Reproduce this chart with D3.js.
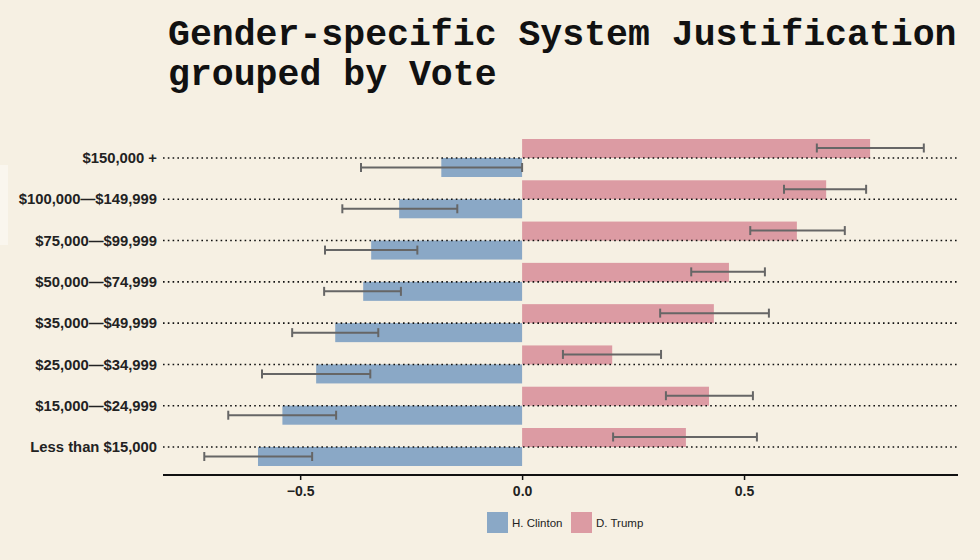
<!DOCTYPE html>
<html>
<head>
<meta charset="utf-8">
<script src="https://cdn.jsdelivr.net/npm/d3@7"></script>
<style>
  body { margin: 0; background: #f6f0e3; }
</style>
</head>
<body>
<div id="content"></div>
<script>
// Data.
var incomes = ['$150,000 +', '$100,000\u2014$149,999', '$75,000\u2014$99,999',
               '$50,000\u2014$74,999', '$35,000\u2014$49,999', '$25,000\u2014$34,999',
               '$15,000\u2014$24,999', 'Less than $15,000'];
var trumpMean = [0.784, 0.685, 0.619, 0.466, 0.432, 0.203, 0.421, 0.369];
var trumpLow  = [0.664, 0.590, 0.514, 0.381, 0.311, 0.092, 0.324, 0.205];
var trumpHigh = [0.905, 0.775, 0.727, 0.547, 0.556, 0.313, 0.520, 0.529];
var clintonMean = [-0.182, -0.277, -0.340, -0.358, -0.421, -0.464, -0.540, -0.595];
var clintonLow  = [-0.363, -0.405, -0.444, -0.446, -0.518, -0.586, -0.662, -0.716];
var clintonHigh = [0.000, -0.146, -0.236, -0.273, -0.324, -0.342, -0.419, -0.473];
var xTicks = [-0.5, 0, 0.5];
var groups = ['H. Clinton', 'D. Trump'];
var colors = ['#8aa8c6', '#dc9ba3'];

var width = 980, height = 560;
var svg = d3.select('#content').append('svg')
    .attr('width', width).attr('height', height);

svg.append('rect').attr('width', width).attr('height', height).attr('fill', '#f6f0e3');
svg.append('rect').attr('x', 0).attr('y', 165).attr('width', 8).attr('height', 80)
    .attr('fill', '#faf6ee');

// Title.
var title = svg.append('text')
    .attr('font-family', '"Liberation Mono", "Courier New", monospace')
    .attr('font-weight', 'bold')
    .attr('font-size', 36.5)
    .attr('fill', '#111');
title.append('tspan').attr('x', 168).attr('y', 45).text('Gender-specific System Justification');
title.append('tspan').attr('x', 168).attr('y', 85).text('grouped by Vote');

// Scales.
var x = d3.scaleLinear().domain([-0.809, 0.982]).range([163, 958]);
var y = d3.scalePoint().domain(incomes).range([158, 447]);
var barH = 19;

var rows = incomes.map(function(d, i) {
  return {name: d, t: trumpMean[i], tl: trumpLow[i], th: trumpHigh[i],
          c: clintonMean[i], cl: clintonLow[i], ch: clintonHigh[i]};
});

var g = svg.append('g');

// Trump bars (above the line).
g.selectAll('rect.trump').data(rows).enter().append('rect')
    .attr('x', x(0))
    .attr('y', function(d) { return y(d.name) - barH; })
    .attr('width', function(d) { return x(d.t) - x(0); })
    .attr('height', barH)
    .attr('fill', colors[1]);

// Clinton bars (below the line).
g.selectAll('rect.clinton').data(rows).enter().append('rect')
    .attr('x', function(d) { return x(d.c); })
    .attr('y', function(d) { return y(d.name); })
    .attr('width', function(d) { return x(0) - x(d.c); })
    .attr('height', barH)
    .attr('fill', colors[0]);

// Dotted guide lines.
g.selectAll('line.guide').data(incomes).enter().append('line')
    .attr('x1', 163).attr('x2', 958)
    .attr('y1', function(d) { return y(d); })
    .attr('y2', function(d) { return y(d); })
    .attr('stroke', '#111')
    .attr('stroke-width', 1.6)
    .attr('stroke-dasharray', '1.6,3.2');

// Error bars.
function errorBars(lo, hi, dy) {
  var eb = g.selectAll(null).data(rows).enter().append('g')
      .attr('stroke', '#666').attr('stroke-width', 2);
  eb.append('line')
      .attr('x1', function(d) { return x(d[lo]); })
      .attr('x2', function(d) { return x(d[hi]); })
      .attr('y1', function(d) { return y(d.name) + dy; })
      .attr('y2', function(d) { return y(d.name) + dy; });
  [lo, hi].forEach(function(k) {
    eb.append('line')
        .attr('x1', function(d) { return x(d[k]); })
        .attr('x2', function(d) { return x(d[k]); })
        .attr('y1', function(d) { return y(d.name) + dy - 4.5; })
        .attr('y2', function(d) { return y(d.name) + dy + 4.5; });
  });
}
errorBars('tl', 'th', -10);
errorBars('cl', 'ch', 9.5);

// Category labels.
svg.selectAll('text.cat').data(incomes).enter().append('text')
    .attr('x', 157)
    .attr('y', function(d) { return y(d); })
    .attr('dy', '0.35em')
    .attr('text-anchor', 'end')
    .attr('font-family', 'Arial, "Liberation Sans", sans-serif')
    .attr('font-weight', 'bold')
    .attr('font-size', 14.8)
    .attr('fill', '#222')
    .text(function(d) { return d; });

// X axis.
var xAxis = svg.append('g').attr('transform', 'translate(0,475)')
    .call(d3.axisBottom(x).tickValues(xTicks).tickSize(5).tickPadding(6)
          .tickFormat(d3.format('.1f')));
xAxis.select('.domain').attr('d', 'M163,0H958').attr('stroke', '#111').attr('stroke-width', 2);
xAxis.selectAll('.tick line').attr('stroke', '#111').attr('stroke-width', 1.5);
xAxis.selectAll('.tick text')
    .attr('font-family', 'Arial, "Liberation Sans", sans-serif')
    .attr('font-weight', 'bold')
    .attr('font-size', 14)
    .attr('fill', '#222')
    .text(function(d) { return d3.format('.1f')(d).replace('-', '\u2212'); });

// Legend.
var legend = svg.append('g').attr('transform', 'translate(487,512)');
var legX = [0, 84];
groups.forEach(function(name, i) {
  var item = legend.append('g').attr('transform', 'translate(' + legX[i] + ',0)');
  item.append('rect').attr('width', 21).attr('height', 21).attr('fill', colors[i]);
  item.append('text').attr('x', 25).attr('y', 11).attr('dy', '0.35em')
      .attr('font-family', 'Arial, "Liberation Sans", sans-serif')
      .attr('font-size', 11.5).attr('fill', '#222')
      .text(name);
});
</script>
</body>
</html>
